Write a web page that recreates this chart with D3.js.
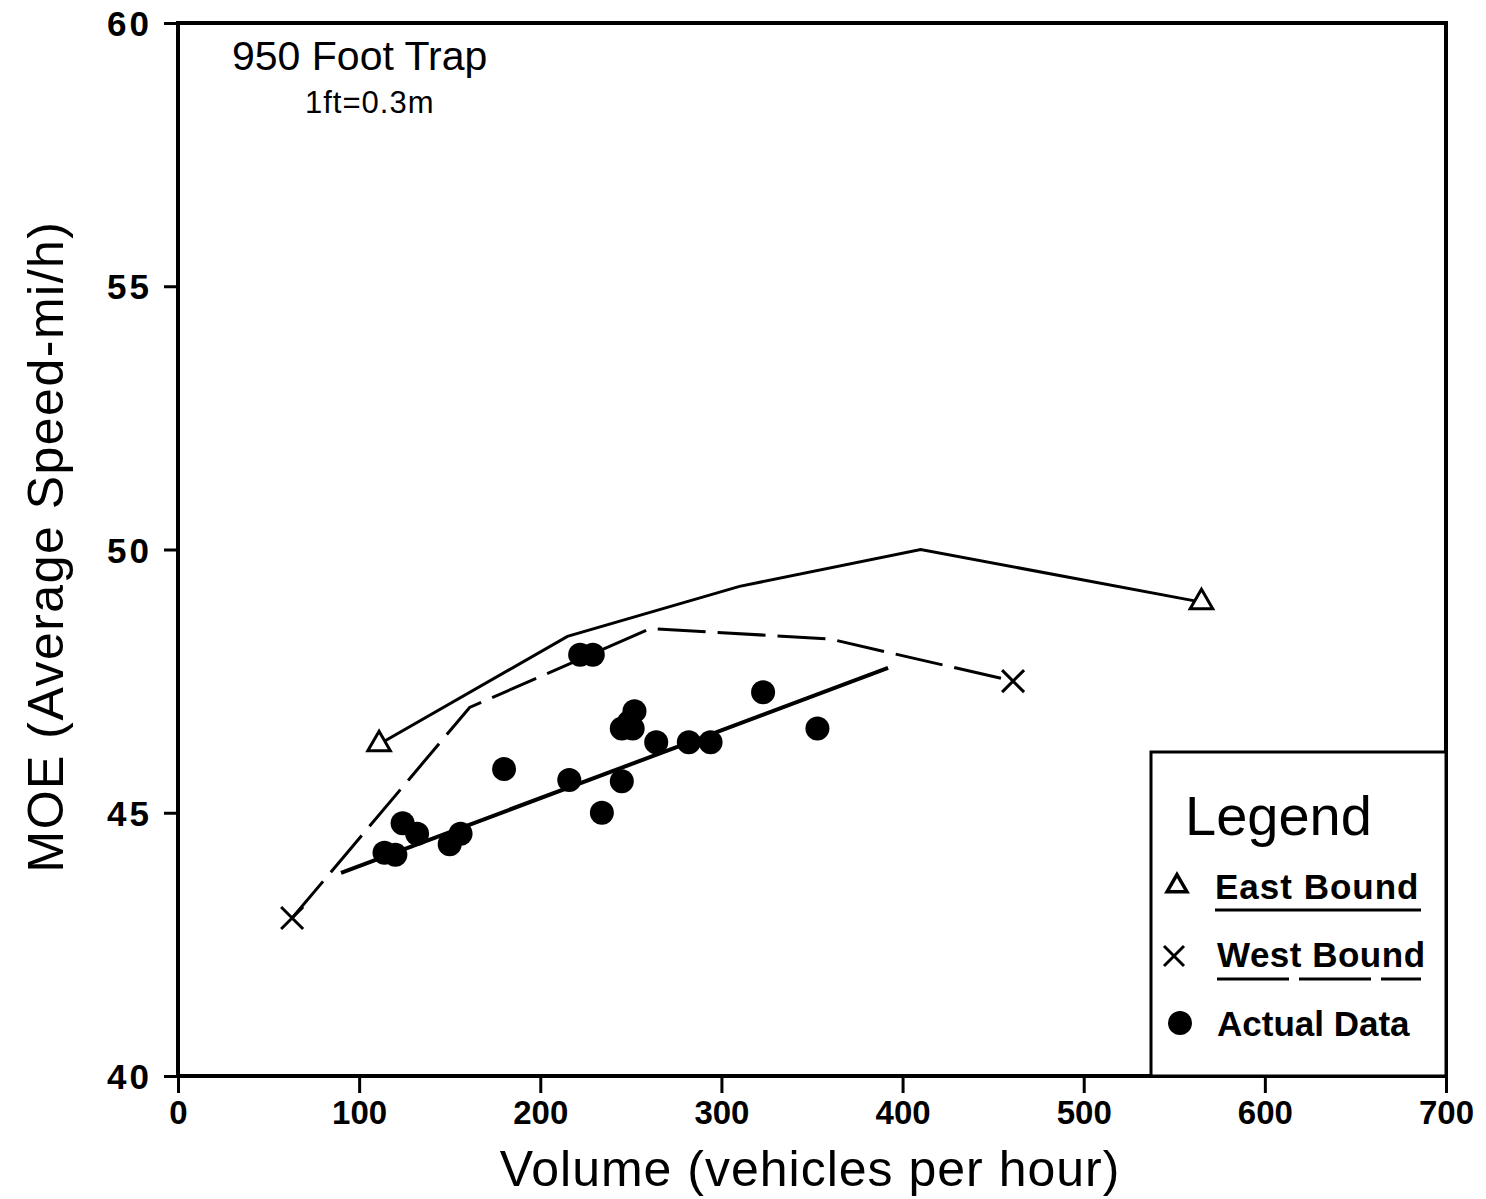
<!DOCTYPE html>
<html>
<head>
<meta charset="utf-8">
<script src="https://cdn.jsdelivr.net/npm/d3@7"></script>
<style>
  body { margin: 0; background: #fff; }
  text { font-family: "Liberation Sans", Arial, sans-serif; fill: #000; }
</style>
</head>
<body>
<div id="chart"></div>
<script>
// East Bound model curve (solid)
var eastV = [111, 215, 310, 410, 565];
var eastS = [46.3, 48.35, 49.3, 50.0, 49.0];
// West Bound model curve (dashed)
var westV = [63, 161, 261, 360, 461];
var westS = [43.0, 47.0, 48.5, 48.3, 47.5];
// fitted line through actual data
var fitV = [90, 392];
var fitS = [43.86, 47.75];
// actual data points
var actualV = [114, 120, 124, 132, 150, 156, 180, 216, 222, 229, 234, 245, 245, 249, 251, 252, 264, 282, 294, 323, 353];
var actualS = [44.24, 44.2, 44.8, 44.6, 44.4, 44.6, 45.83, 45.62, 48.0, 48.0, 45.0, 45.6, 46.6, 46.72, 46.6, 46.93, 46.34, 46.34, 46.34, 47.29, 46.6];

var xTicks = [0, 100, 200, 300, 400, 500, 600, 700];
var yTicks = [40, 45, 50, 55, 60];

var W = 1486, H = 1199;
var margin = {top: 23, right: 40, bottom: 123, left: 178};
var width = W - margin.left - margin.right,
    height = H - margin.top - margin.bottom;

var svg = d3.select("#chart").append("svg").attr("width", W).attr("height", H);
var g = svg.append("g").attr("transform", "translate(" + margin.left + "," + margin.top + ")");

var x = d3.scaleLinear().domain([0, 700]).range([0, width]);
var y = d3.scaleLinear().domain([40, 60]).range([height, 0]);

// axes
var xAxis = g.append("g").attr("transform", "translate(0," + height + ")")
  .call(d3.axisBottom(x).tickValues(xTicks).tickSize(17).tickPadding(8));
var yAxis = g.append("g")
  .call(d3.axisLeft(y).tickValues(yTicks).tickSize(14).tickPadding(12));
[xAxis, yAxis].forEach(function(a) {
  a.select(".domain").remove();
  a.selectAll(".tick line").attr("stroke", "#000").attr("stroke-width", 3);
  a.selectAll(".tick text").style("font-size", "33px").style("font-weight", "bold");
});
yAxis.selectAll(".tick text").attr("dy", "0.36em").style("font-size", "35px").style("letter-spacing", "3px");

// frame
g.append("rect").attr("x", 0).attr("y", 0).attr("width", width).attr("height", height)
  .attr("fill", "none").attr("stroke", "#000").attr("stroke-width", 4);

// axis titles
g.append("text").attr("x", width / 2 - 2).attr("y", height + 110)
  .attr("text-anchor", "middle").style("font-size", "50px").style("letter-spacing", "1px")
  .text("Volume (vehicles per hour)");
g.append("text").attr("transform", "rotate(-90)").attr("x", -y(50) + 3).attr("y", -115)
  .attr("text-anchor", "middle").style("font-size", "50px").style("letter-spacing", "1.5px")
  .text("MOE (Average Speed-mi/h)");

// annotations
g.append("text").attr("x", 54).attr("y", 47).style("font-size", "41px").text("950 Foot Trap");
g.append("text").attr("x", 127).attr("y", 90).style("font-size", "31px").style("letter-spacing", "1px").text("1ft=0.3m");

var line = d3.line().x(function(d) { return x(d[0]); }).y(function(d) { return y(d[1]); });
var east = eastV.map(function(v, i) { return [v, eastS[i]]; });
var west = westV.map(function(v, i) { return [v, westS[i]]; });
var fit = fitV.map(function(v, i) { return [v, fitS[i]]; });
var actual = actualV.map(function(v, i) { return [v, actualS[i]]; });

g.append("path").datum(east).attr("d", line).attr("fill", "none")
  .attr("stroke", "#000").attr("stroke-width", 3);
g.append("path").datum(west).attr("d", line).attr("fill", "none")
  .attr("stroke", "#000").attr("stroke-width", 3).attr("stroke-dasharray", "48,12");
g.append("path").datum(fit).attr("d", line).attr("fill", "none")
  .attr("stroke", "#000").attr("stroke-width", 4);

g.selectAll("circle.act").data(actual).enter().append("circle").attr("class", "act")
  .attr("cx", function(d) { return x(d[0]); }).attr("cy", function(d) { return y(d[1]); })
  .attr("r", 12).attr("fill", "#000");

function crossPath(s) { return "M" + (-s) + "," + (-s) + "L" + s + "," + s + "M" + (-s) + "," + s + "L" + s + "," + (-s); }

var tri = d3.symbol().type(d3.symbolTriangle).size(220);
g.selectAll("path.tri").data([east[0], east[east.length - 1]]).enter().append("path")
  .attr("class", "tri").attr("d", tri)
  .attr("transform", function(d) { return "translate(" + x(d[0]) + "," + y(d[1]) + ")"; })
  .attr("fill", "#fff").attr("stroke", "#000").attr("stroke-width", 3);
g.selectAll("path.crs").data([west[0], west[west.length - 1]]).enter().append("path")
  .attr("class", "crs").attr("d", crossPath(11))
  .attr("transform", function(d) { return "translate(" + x(d[0]) + "," + y(d[1]) + ")"; })
  .attr("fill", "none").attr("stroke", "#000").attr("stroke-width", 3);

// legend
var lg = g.append("g").attr("transform", "translate(" + (1151 - margin.left) + "," + (752 - margin.top) + ")");
var lw = width - (1151 - margin.left), lh = height - (752 - margin.top);
lg.append("rect").attr("width", lw).attr("height", lh).attr("fill", "#fff")
  .attr("stroke", "#000").attr("stroke-width", 3);
lg.append("text").attr("x", 34).attr("y", 83).style("font-size", "56px").text("Legend");
lg.append("path").attr("d", d3.symbol().type(d3.symbolTriangle).size(170))
  .attr("transform", "translate(26,134)").attr("fill", "#fff").attr("stroke", "#000").attr("stroke-width", 3.5);
lg.append("text").attr("x", 64).attr("y", 147).style("font-size", "35px").style("font-weight", "bold")
  .style("letter-spacing", "1px").text("East Bound");
lg.append("line").attr("x1", 64).attr("x2", 270).attr("y1", 158).attr("y2", 158)
  .attr("stroke", "#000").attr("stroke-width", 3);
lg.append("path").attr("d", crossPath(10))
  .attr("transform", "translate(23,204)").attr("fill", "none").attr("stroke", "#000").attr("stroke-width", 3);
lg.append("text").attr("x", 66).attr("y", 215).style("font-size", "35px").style("font-weight", "bold")
  .style("letter-spacing", "0.5px").text("West Bound");
lg.append("line").attr("x1", 66).attr("x2", 270).attr("y1", 227).attr("y2", 227)
  .attr("stroke", "#000").attr("stroke-width", 3).attr("stroke-dasharray", "72,10");
lg.append("circle").attr("cx", 29).attr("cy", 271).attr("r", 12).attr("fill", "#000");
lg.append("text").attr("x", 66).attr("y", 284).style("font-size", "35px").style("font-weight", "bold")
  .text("Actual Data");
</script>
</body>
</html>
